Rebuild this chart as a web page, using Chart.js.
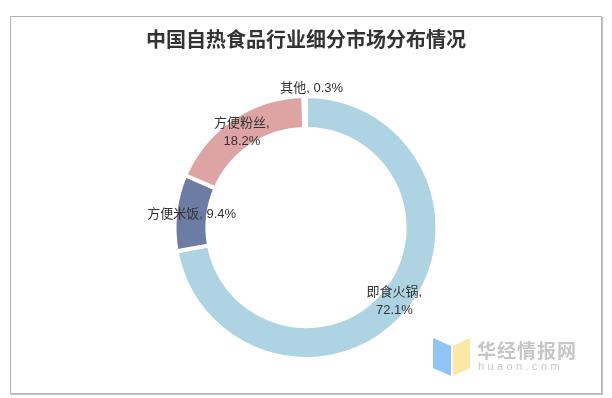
<!DOCTYPE html>
<html>
<head>
<meta charset="utf-8">
<script src="https://cdn.jsdelivr.net/npm/chart.js@4.4.0/dist/chart.umd.min.js"></script>
<style>
  html, body { margin: 0; padding: 0; background: #fff; }
  body { width: 612px; height: 398px; position: relative; overflow: hidden; }
  #box {
    position: absolute; left: 10px; top: 16px; width: 590px; height: 376px;
    border: 1px solid #b4b4b4; box-shadow: 1px 1px 1px #c8c8c8; background: #fff;
  }
  #logo { position: absolute; left: 432px; top: 336px; }
  #wm1 {
    position: absolute; left: 477px; top: 336px; font: bold 19px "Noto Sans CJK SC", sans-serif;
    color: #c6c6c6; letter-spacing: 1px;
  }
  #wm2 {
    position: absolute; left: 478px; top: 360px; font: 11px "Liberation Sans", sans-serif;
    color: #c8c8c8; letter-spacing: 3.4px;
  }
</style>
</head>
<body>
<div id="box"><canvas id="pieChart"></canvas></div>
<svg id="logo" width="40" height="42">
  <polygon points="1,2 19,10 19,40 1,32" fill="#8ec4f6"/>
  <polygon points="21,10 38,2 38,32 21,40" fill="#fbe8a2"/>
</svg>
<div id="wm1">华经情报网</div>
<div id="wm2">huaon.com</div>
<script>
const chartCanvas = document.getElementById("pieChart");

const categories = ["即食火锅", "方便米饭", "方便粉丝", "其他"];
const shares = [72.1, 9.4, 18.2, 0.3];
const sliceColors = ["#aed4e3", "#6c7ca3", "#dea4a4", "#ffffff"];
// which labels break after the comma
const twoLine = [true, false, true, false];

const labelPlugin = {
  id: "sliceLabels",
  afterDatasetsDraw(chart) {
    const ctx = chart.ctx;
    const arcs = chart.getDatasetMeta(0).data;
    ctx.save();
    ctx.font = '13px "Liberation Sans", "Noto Sans CJK SC", sans-serif';
    ctx.fillStyle = "#333";
    ctx.textAlign = "center";
    ctx.textBaseline = "middle";
    arcs.forEach((arc, i) => {
      const p = arc.getProps(["x", "y", "startAngle", "endAngle", "innerRadius", "outerRadius"], true);
      const mid = (p.startAngle + p.endAngle) / 2;
      let r = (p.innerRadius + p.outerRadius) / 2;
      let dx = 0;
      if (i === 3) { r = p.outerRadius + 8; dx = 7; }
      const x = p.x + Math.cos(mid) * r + dx;
      const y = p.y + Math.sin(mid) * r;
      const head = categories[i] + ",";
      const val = shares[i] + "%";
      if (twoLine[i]) {
        ctx.fillText(head, x, y - 9);
        ctx.fillText(val, x, y + 9);
      } else {
        ctx.fillText(head + " " + val, x, y);
      }
    });
    ctx.restore();
  }
};

new Chart(chartCanvas, {
  type: "doughnut",
  data: {
    labels: categories,
    datasets: [{
      data: shares,
      backgroundColor: sliceColors,
      borderColor: "#ffffff",
      borderWidth: 4
    }]
  },
  options: {
    responsive: true,
    maintainAspectRatio: false,
    animation: false,
    cutout: "75%",
    layout: { padding: { top: 0, bottom: 32 } },
    plugins: {
      legend: { display: false },
      tooltip: { enabled: false },
      title: {
        display: true,
        text: "中国自热食品行业细分市场分布情况",
        color: "#333",
        font: { family: '"Noto Sans CJK SC", sans-serif', size: 20, weight: "bold" },
        padding: { top: 10, bottom: 43 }
      }
    }
  },
  plugins: [labelPlugin]
});
</script>
</body>
</html>
